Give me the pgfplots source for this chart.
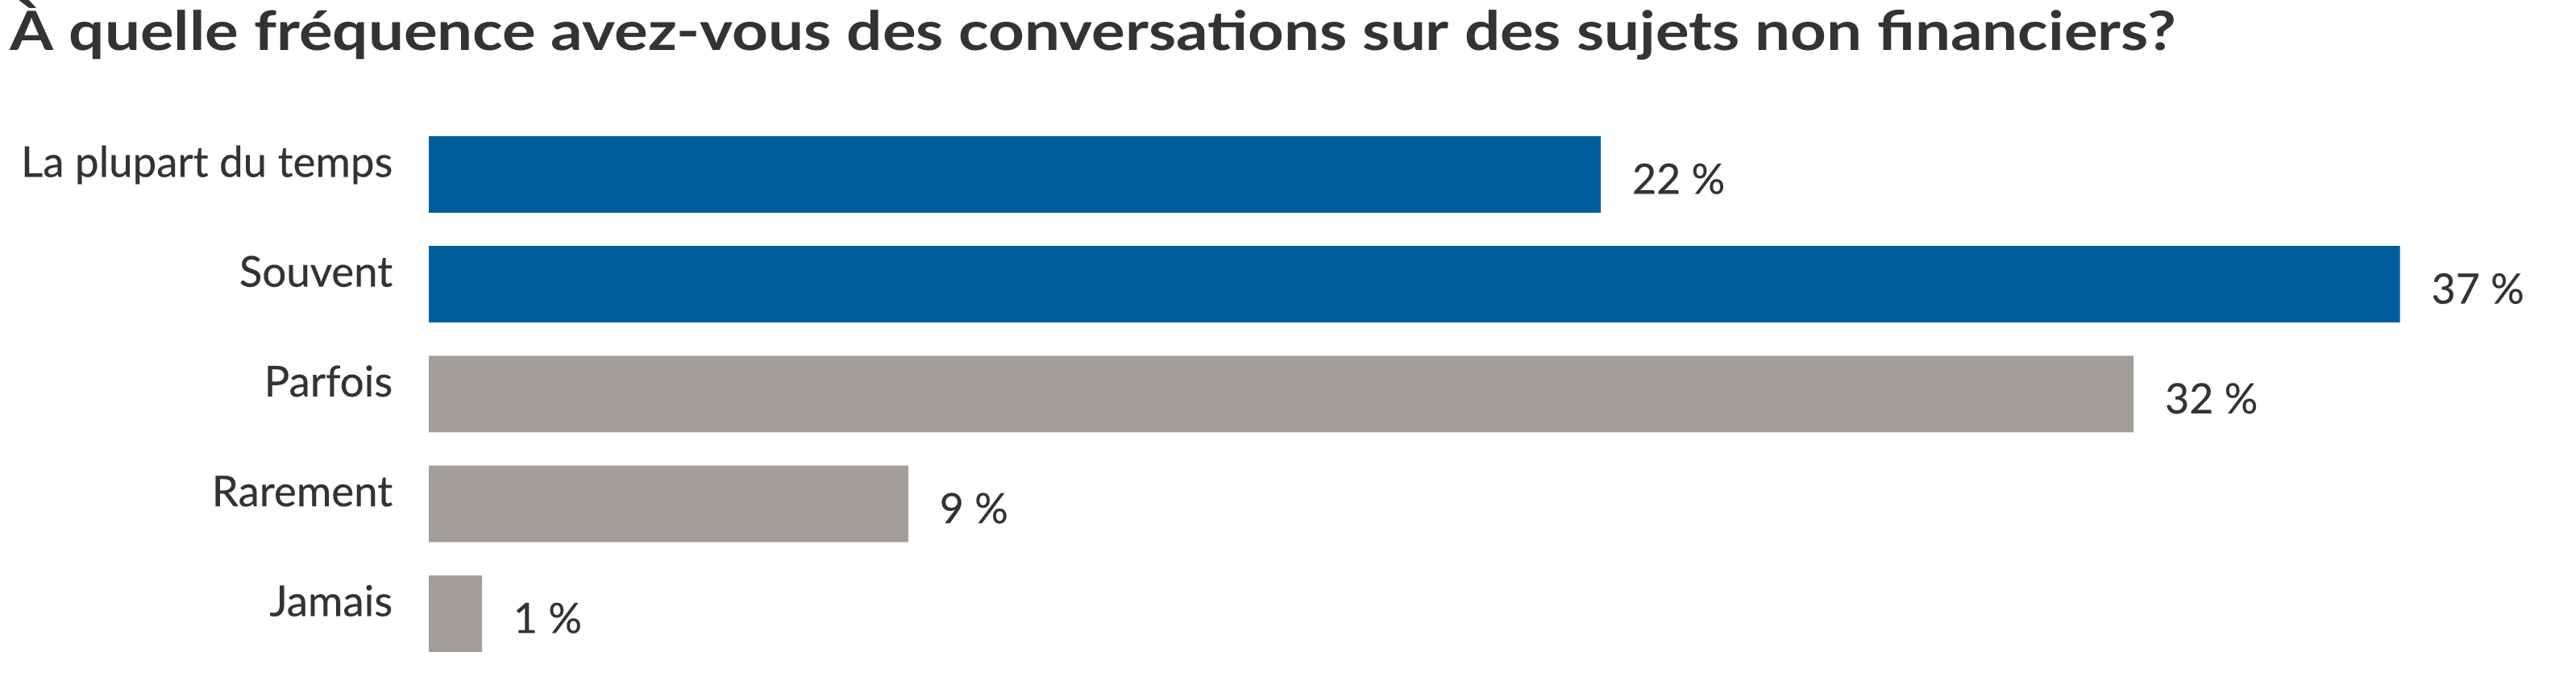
\documentclass[border=0pt]{standalone}
\usepackage{fontspec}
\setmainfont{Lato}
\newfontfamily\titlefont{Lato}[FakeStretch=1.16]
\newfontfamily\labelfont{Lato}[FakeBold=0.3]
\usepackage{pgfplots}
\pgfplotsset{compat=1.18}

\definecolor{barblue}{HTML}{005E9C}
\definecolor{bargray}{HTML}{A39E98}
\definecolor{txt}{HTML}{333333}

\begin{document}
\begin{tikzpicture}
	\path[use as bounding box] (0,0) rectangle (799pt,208.5pt);

	\begin{axis}[
		at={(133pt,1.125pt)},
		anchor=south west,
		scale only axis,
		width=661pt,
		height=170.3pt,
		xbar,
		bar width=0.697,
		xmin=0,
		xmax=40,
		ymin=-0.5,
		ymax=4.5,
		axis line style={draw=none},
		tick style={draw=none},
		xtick=\empty,
		ytick={0,1,2,3,4},
		yticklabels={Jamais,Rarement,Parfois,Souvent,La plupart du temps},
		yticklabel style={
			anchor=base east,
			inner sep=0pt,
			font=\labelfont\fontsize{13.2}{15}\selectfont,
			text=txt,
			xshift=-6.75pt,
			yshift=-0.75pt
		},
		point meta=x,
		nodes near coords={\pgfmathprintnumber[assume math mode=true]{\pgfplotspointmeta}\ \%},
		nodes near coords style={
			anchor=base west,
			inner sep=0pt,
			font=\labelfont\fontsize{13}{15}\selectfont,
			text=txt,
			xshift=9.5pt,
			yshift=-6pt
		},
		]

		% neutral answers
		\addplot[fill=bargray, draw=none, bar shift=0pt] coordinates {
			(1,0)
			(9,1)
			(32,2)
		};

		% frequent answers
		\addplot[fill=barblue, draw=none, bar shift=0pt] coordinates {
			(37,3)
			(22,4)
		};

	\end{axis}

	\node[anchor=base west, inner sep=0pt, text=txt,
	font=\titlefont\bfseries\fontsize{16.8}{20}\selectfont] at (3pt,192.75pt)
	{À quelle fréquence avez-vous des conversations sur des sujets non financiers?};
\end{tikzpicture}
\end{document}
